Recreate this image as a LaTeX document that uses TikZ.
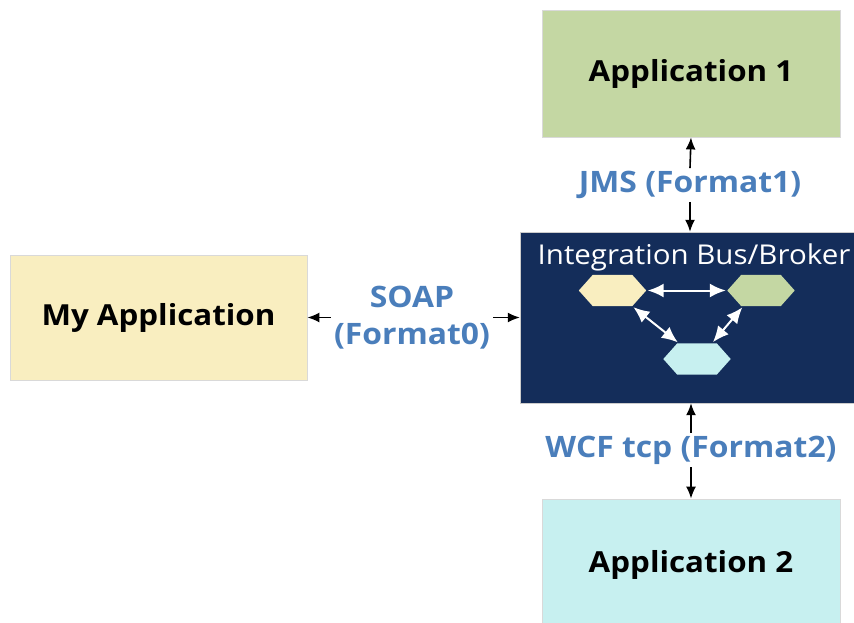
\documentclass[tikz,border=0pt]{standalone}
\usepackage{fontspec}
\setmainfont[FakeStretch=1.08]{Open Sans}
\usetikzlibrary{arrows.meta}
\definecolor{appgreen}{RGB}{196,215,163}
\definecolor{appbeige}{RGB}{249,238,192}
\definecolor{appcyan}{RGB}{199,240,240}
\definecolor{busnavy}{RGB}{20,45,90}
\definecolor{lblblue}{RGB}{74,126,187}
\begin{document}
\begin{tikzpicture}[x=1pt,y=-1pt,
  appfont/.style={font=\fontsize{29}{34}\selectfont\bfseries},
  appbox/.style={draw=black!15,line width=0.8pt,inner sep=0pt,appfont},
  lbl/.style={text=lblblue,font=\fontsize{29.5}{37}\selectfont\bfseries,align=center,inner sep=3pt},
  arr/.style={-{Latex[length=12pt,width=10pt]},line width=1.6pt,black},
  hexnode/.style={minimum width=67pt,minimum height=31pt,inner sep=0pt},
  warr/.style={{Latex[length=16pt,width=14pt]}-{Latex[length=16pt,width=14pt]},line width=2pt,white,shorten >=1.5pt,shorten <=1.5pt}]
\useasboundingbox (0,0) rectangle (854,622);
\fill[white] (0,0) rectangle (854,622);
\node[appbox,fill=appgreen,minimum width=298pt,minimum height=127pt] (app1) at (691,73.5) {Application 1};
\node[appbox,fill=appcyan,minimum width=298pt,minimum height=127pt] (app2) at (691,562.5) {};
\node[appfont] (app2t) at (691,565) {Application 2};
\node[appbox,fill=appbeige,minimum width=297pt,minimum height=125pt] (myapp) at (158.5,317.5) {My Application};
\node[fill=busnavy,draw=black!20,minimum width=340pt,minimum height=171pt,inner sep=0pt] (bus) at (690,317.5) {};
\node[text=white,font=\fontsize{27.3}{30}\selectfont] (bustitle) at (694,257) {Integration Bus/Broker};
\node[hexnode] (h1) at (612.5,290.5) {};
\node[hexnode] (h2) at (761,290.5) {};
\node[hexnode] (h3) at (697,359) {};
\foreach \h/\c in {h1/appbeige,h2/appgreen,h3/appcyan} {
  \fill[\c] (\h.west) -- ([xshift=14pt]\h.north west) -- ([xshift=-14pt]\h.north east) -- (\h.east)
    -- ([xshift=-14pt]\h.south east) -- ([xshift=14pt]\h.south west) -- cycle;
}
\draw[warr] (h1.east) -- (h2.west);
\draw[warr] ([xshift=-14pt]h1.south east) -- ([xshift=-18pt]h3.north);
\draw[warr] ([xshift=16pt]h2.south west) -- ([xshift=15pt]h3.north);
\node[lbl] (jms) at (690,185) {JMS (Format1)};
\node[lbl] (wcf) at (691,450) {WCF tcp (Format2)};
\node[lbl] (soap) at (412,318) {SOAP\\(Format0)};
\draw[arr] (jms.north) -- (app1.south);
\draw[arr] (jms.south) -- (bus.north -| jms.south);
\draw[arr] (wcf.north) -- (bus.south -| wcf.north);
\draw[arr] (wcf.south) -- (app2.north);
\draw[arr] (soap.west |- myapp.east) -- (myapp.east);
\draw[arr] (soap.east |- bus.west) -- (bus.west);
\end{tikzpicture}
\end{document}
